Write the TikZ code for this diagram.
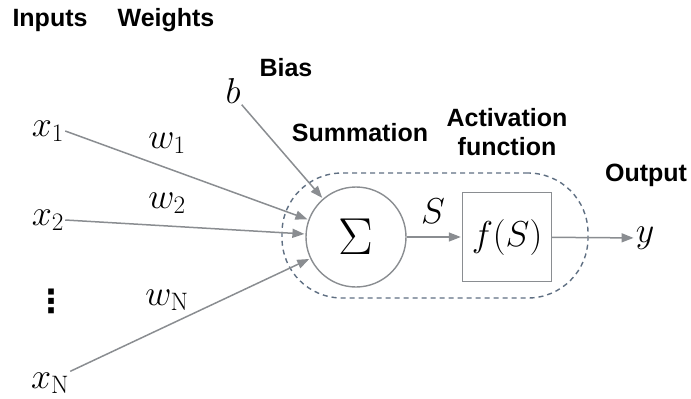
\RequirePackage{fix-cm}
\documentclass[tikz,border=0pt]{standalone}
\usepackage{fontspec}
\setsansfont{Liberation Sans}
\newfontfamily\dotsfont{DejaVu Sans}
\usetikzlibrary{positioning, arrows.meta}
\definecolor{linegray}{HTML}{8A8D91}
\definecolor{dashgray}{HTML}{5F6F82}

\begin{document}
\begin{tikzpicture}[
    x=1pt, y=-1pt,
    head/.style={font=\fontsize{25}{29}\selectfont\sffamily\bfseries, align=center, inner sep=0pt},
    sym/.style={font=\fontsize{36}{40}\selectfont, inner sep=1pt},
    sumnode/.style={circle, draw=linegray, line width=1.4pt, minimum size=100pt, inner sep=0pt, font=\fontsize{52}{56}\selectfont},
    actnode/.style={draw=linegray, line width=1.4pt, minimum width=89pt, minimum height=89pt, inner sep=0pt, font=\fontsize{36}{40}\selectfont},
    unit/.style={draw=dashgray, dash pattern=on 5pt off 4pt, line width=1.4pt, rounded corners=60pt, minimum width=306pt, minimum height=125pt},
    arrow/.style={-{Triangle[length=12pt, width=9pt]}, draw=linegray, line width=1.5pt, shorten >=1pt},
]
\useasboundingbox (0,0) rectangle (691,399);

\node[head] (inputs_t) at (50,20) {Inputs};
\node[head] (weights_t) at (166,20) {Weights};
\node[head] (bias_t) at (286,68) {Bias};
\node[head] (sum_t) at (360,133) {Summation};
\node[head] (act_t) at (507,132) {Activation\\function};
\node[head] (out_t) at (646,175) {Output};

\node[unit] (neuron) at (435,235.5) {};
\node[sumnode] (sum) at (356,237) {$\Sigma$};
\node[actnode] (act) at (507,237) {$f(S)$};

\node[sym] (x_one) at (48,131) {$x_1$};
\node[sym] (x_two) at (48,220) {$x_2$};
\node[sym, font=\fontsize{32}{36}\selectfont\dotsfont\bfseries] (x_dots) at (51,301) {⋮};
\node[sym] (x_n) at (50,383) {$x_{\mathrm{N}}$};
\node[sym] (b) at (233,91) {$b$};
\node[sym] (w_one) at (167,143) {$w_1$};
\node[sym] (w_two) at (167,203) {$w_2$};
\node[sym] (w_n) at (167,300) {$w_{\mathrm{N}}$};
\node[sym] (s_lbl) at (433,211) {$S$};
\node[sym] (y) at (645,238) {$y$};

\draw[arrow] (x_one.east) -- (sum);
\draw[arrow] (x_two.east) -- (sum);
\draw[arrow] (x_n.north east) -- (sum);
\draw[arrow] (b.south east) -- (sum);
\draw[arrow] (sum) -- (act);
\draw[arrow] (act) -- (y);

\end{tikzpicture}
\end{document}
